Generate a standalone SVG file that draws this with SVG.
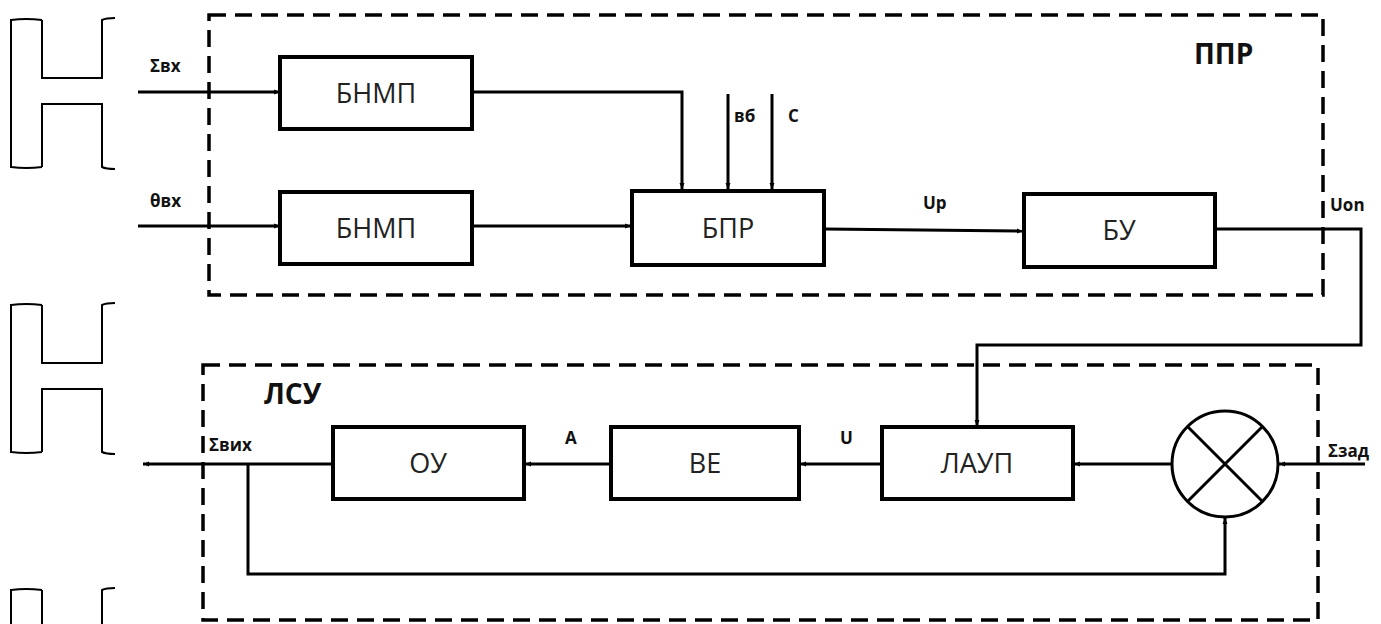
<svg xmlns="http://www.w3.org/2000/svg" width="1381" height="624" viewBox="0 0 1381 624">
<defs>
<style>
.blk{fill:#fff;stroke:#000;stroke-width:4}
.ln{fill:none;stroke:#000;stroke-width:3}
.dash{fill:none;stroke:#000;stroke-width:3.5;stroke-dasharray:17 9}
.rail{fill:none;stroke:#000;stroke-width:2}
.bt{font-family:"Open Sans","Liberation Sans",sans-serif;font-size:27px;fill:#222;text-anchor:middle}
.lb{font-family:"Open Sans","Liberation Sans",sans-serif;font-size:17px;font-weight:bold;fill:#111}
.big{font-family:"Open Sans","Liberation Sans",sans-serif;font-size:28px;font-weight:bold;fill:#111}
</style>
<marker id="ah" viewBox="0 0 6 6" refX="6" refY="3" markerWidth="6" markerHeight="6" markerUnits="userSpaceOnUse" orient="auto">
<path d="M0,0.5 L6,3 L0,5.5 z" fill="#000"/>
</marker>
</defs>

<g id="rails">
<path class="rail" d="M42,20 Q26,18 11,20 L11,167 Q26,169 42,167 M42,20 L42,78 L102,78 L102,20 Q106,18 115,18 M42,167 L42,104 L102,104 L102,167 Q106,169 115,169"/>
<path class="rail" d="M42,305 Q26,303 11,305 L11,452 Q26,454 42,452 M42,305 L42,363 L102,363 L102,305 Q106,303 115,303 M42,452 L42,389 L102,389 L102,452 Q106,454 115,454"/>
<path class="rail" d="M42,590 Q26,588 11,590 L11,630 M42,590 L42,630 M102,630 L102,590 Q106,588 115,588"/>
</g>

<g id="ppr">
<rect class="dash" x="209" y="15" width="1114" height="280"/>
<text class="big" x="1194" y="64" font-size="24">ППР</text>
</g>
<g id="lsu">
<rect class="dash" x="203" y="365" width="1115" height="255"/>
<text class="big" x="264" y="404">ЛСУ</text>
</g>

<g id="connectors">
<path class="ln" d="M138,92 L280,92" marker-end="url(#ah)"/>
<path class="ln" d="M138,226 L280,226" marker-end="url(#ah)"/>
<path class="ln" d="M472,92 L682,92 L682,189" marker-end="url(#ah)"/>
<path class="ln" d="M728,94 L728,189" marker-end="url(#ah)"/>
<path class="ln" d="M772,94 L772,189" marker-end="url(#ah)"/>
<path class="ln" d="M472,226 L631,226" marker-end="url(#ah)"/>
<path class="ln" d="M824,229 L1023,231" marker-end="url(#ah)"/>
<path class="ln" d="M1215,229 L1361,229 L1361,345 L977,345 L977,426" marker-end="url(#ah)"/>
<path class="ln" d="M1365,464 L1279,464" marker-end="url(#ah)"/>
<path class="ln" d="M1172,464 L1074,464" marker-end="url(#ah)"/>
<path class="ln" d="M882,464 L800,464" marker-end="url(#ah)"/>
<path class="ln" d="M611,464 L525,464" marker-end="url(#ah)"/>
<path class="ln" d="M333,464 L143,464" marker-end="url(#ah)"/>
<path class="ln" d="M248,464 L248,574 L1225,574 L1225,518" marker-end="url(#ah)"/>
</g>

<g id="bnmp1"><rect class="blk" x="280" y="57" width="192" height="72"/><text class="bt" x="376" y="103">БНМП</text></g>
<g id="bnmp2"><rect class="blk" x="280" y="192" width="192" height="72"/><text class="bt" x="376" y="238">БНМП</text></g>
<g id="bpr"><rect class="blk" x="632" y="191" width="192" height="74"/><text class="bt" x="728" y="238">БПР</text></g>
<g id="bu"><rect class="blk" x="1024" y="194" width="191" height="73"/><text class="bt" x="1119" y="240">БУ</text></g>
<g id="ou"><rect class="blk" x="333" y="427" width="191" height="72"/><text class="bt" x="428" y="473">ОУ</text></g>
<g id="ve"><rect class="blk" x="611" y="427" width="188" height="72"/><text class="bt" x="705" y="473">ВЕ</text></g>
<g id="laup"><rect class="blk" x="882" y="427" width="191" height="72"/><text class="bt" x="977" y="473">ЛАУП</text></g>
<g id="summator">
<circle cx="1225" cy="464" r="53" fill="#fff" stroke="#000" stroke-width="3"/>
<path class="ln" d="M1187.5,426.5 L1262.5,501.5 M1262.5,426.5 L1187.5,501.5"/>
</g>

<g id="labels">
<text class="lb" x="150" y="72">Σвх</text>
<text class="lb" x="150" y="207">θвх</text>
<text class="lb" x="734" y="122">вб</text>
<text class="lb" x="788" y="122">C</text>
<text class="lb" x="923" y="209">Up</text>
<text class="lb" x="1330" y="211">Uon</text>
<text class="lb" x="209" y="451">Σвих</text>
<text class="lb" x="565" y="444">A</text>
<text class="lb" x="840" y="444">U</text>
<text class="lb" x="1328" y="457">Σзад</text>
</g>
</svg>
